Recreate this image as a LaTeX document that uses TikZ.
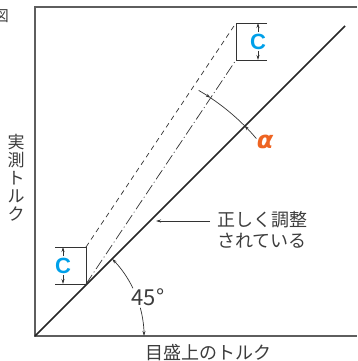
\documentclass[tikz,border=0pt]{standalone}
\usepackage{fontspec}
\setmainfont{Noto Sans CJK JP}
\newfontfamily\afont{DejaVu Sans}
\newfontfamily\cfont{Liberation Sans}
\usetikzlibrary{arrows.meta}
\definecolor{cblue}{HTML}{00A0E9}
\definecolor{aorange}{HTML}{EE6422}
\definecolor{txt}{HTML}{3C3C3C}
\definecolor{framec}{HTML}{5E5E5E}
\tikzset{
  framel/.style={draw=framec, line width=1.1pt},
  mainl/.style={draw=black!85, line width=1.7pt},
  thinl/.style={draw=black!80, line width=0.7pt},
  dashl/.style={draw=black!80, line width=0.7pt, dash pattern=on 5pt off 4pt},
  dashdotl/.style={draw=black!80, line width=0.7pt, dash pattern=on 11pt off 3pt on 1pt off 3pt},
  tip/.style={-{Stealth[length=5pt,width=3pt]}},
  lbl/.style={text=txt, inner sep=0pt, font=\fontsize{18}{21}\selectfont},
  clbl/.style={text=cblue, inner sep=0pt, font=\cfont\bfseries\fontsize{22}{22}\selectfont},
}
\begin{document}
\begin{tikzpicture}[x=1pt,y=-1pt]
\useasboundingbox (0,0) rectangle (357,361);
% frame
\coordinate (TR) at (357,7);
\coordinate (TL) at (35,7);
\coordinate (O) at (35,336);
\coordinate (BR) at (357,336);
\draw[framel] (TR) -- (TL) -- (O) -- (BR);
\node[lbl, anchor=east, font=\fontsize{15}{15}\selectfont] (fig) at (9,16) {図};
% main line
\coordinate (M) at (345,26);
\draw[mainl] (O) -- (M);
% offset lines
\coordinate (P) at (86,284);
\coordinate (Q) at (236,60);
\coordinate (P2) at (86,247);
\coordinate (Q2) at (236,23);
\draw[dashdotl] (P) -- (Q);
\draw[dashl] (P2) -- (Q2);
% bottom C bracket
\coordinate (BL1) at (55,247);
\coordinate (BL2) at (55,284);
\draw[thinl] (BL1) -- (P2) -- (P) -- (BL2);
\coordinate (BA1) at (63,256);
\coordinate (BA1t) at (63,247);
\coordinate (BA2) at (63,275);
\coordinate (BA2t) at (63,284);
\draw[thinl, tip] (BA1) -- (BA1t);
\draw[thinl, tip] (BA2) -- (BA2t);
\node[clbl] (c1) at (63,266) {C};
% top C bracket
\coordinate (TR1) at (267,23);
\coordinate (TR2) at (267,60);
\draw[thinl] (TR1) -- (Q2) -- (Q) -- (TR2);
\coordinate (TA1) at (258,32);
\coordinate (TA1t) at (258,23);
\coordinate (TA2) at (258,51);
\coordinate (TA2t) at (258,60);
\draw[thinl, tip] (TA1) -- (TA1t);
\draw[thinl, tip] (TA2) -- (TA2t);
\node[clbl] (c2) at (258,42) {C};
% alpha arc
\draw[thinl, tip] ([shift={(-59.8:224)}]P) arc[start angle=-59.8, end angle=-56.2, radius=224];
\draw[thinl] ([shift={(-56.2:224)}]P) arc[start angle=-56.2, end angle=-45, radius=224];
\draw[thinl, tip] ([shift={(-40.5:224)}]P) arc[start angle=-40.5, end angle=-45, radius=224];
\node[inner sep=0pt, text=aorange, font=\afont\bfseries\itshape\fontsize{24}{24}\selectfont] (alpha) at (265,142) {α};
% 45 deg arc
\draw[thinl, tip] ([shift={(-26:109)}]O) arc[start angle=-26, end angle=-45, radius=109];
\draw[thinl, tip] ([shift={(-15:109)}]O) arc[start angle=-15, end angle=0, radius=109];
\node[lbl, font=\fontsize{22}{22}\selectfont] (deg) at (148,297) {45°};
% correctly adjusted
\node[lbl, anchor=west, align=left] (ok) at (217,230) {正しく調整\\されている};
\coordinate (okt) at (156,221);
\coordinate (oks) at (210,221);
\draw[thinl, tip] (oks) -- (okt);
% axis labels
\node[lbl, align=center, font=\fontsize{17}{18}\selectfont] (ylab) at (16,178) {実\\測\\ト\\ル\\ク};
\node[lbl] (xlab) at (208,353) {目盛上のトルク};
\end{tikzpicture}
\end{document}
